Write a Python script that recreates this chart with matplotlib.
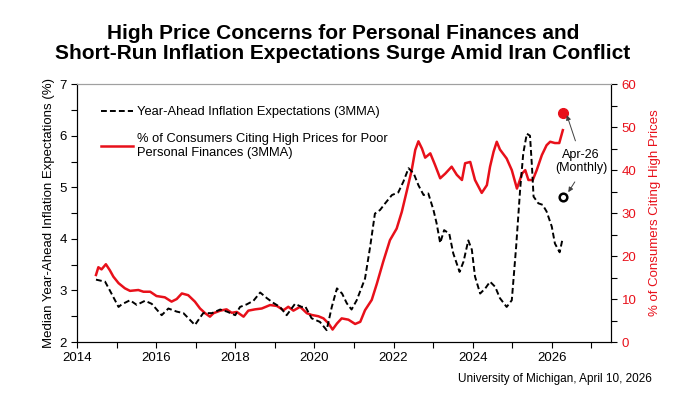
import matplotlib
matplotlib.use("Agg")
import matplotlib.pyplot as plt
from matplotlib.ticker import MultipleLocator

plt.rcParams['font.family'] = ['Liberation Sans', 'DejaVu Sans']

# Year-ahead inflation expectations, 3MMA (%), left axis
infl_x = [2014.48, 2014.71, 2014.83, 2015.05, 2015.13, 2015.34, 2015.51, 2015.72, 2015.89,
          2016.14, 2016.31, 2016.52, 2016.69, 2016.98, 2017.19, 2017.41, 2017.62, 2017.79,
          2018.00, 2018.12, 2018.29, 2018.46, 2018.63, 2018.80, 2018.96, 2019.13, 2019.30,
          2019.51, 2019.68, 2019.77, 2019.93, 2020.14, 2020.31, 2020.44, 2020.57, 2020.70,
          2020.82, 2020.94, 2021.07, 2021.28, 2021.41, 2021.53, 2021.66, 2021.79, 2021.96,
          2022.12, 2022.25, 2022.38, 2022.51, 2022.63, 2022.76, 2022.88, 2023.01, 2023.09,
          2023.18, 2023.28, 2023.41, 2023.51, 2023.67, 2023.77, 2023.89, 2023.98, 2024.06,
          2024.19, 2024.32, 2024.44, 2024.57, 2024.69, 2024.86, 2024.99, 2025.10, 2025.20,
          2025.28, 2025.37, 2025.45, 2025.50, 2025.54, 2025.66, 2025.77, 2025.87, 2026.00,
          2026.08, 2026.20, 2026.27]
infl_y = [3.21, 3.17, 3.00, 2.68, 2.73, 2.81, 2.72, 2.80, 2.74,
          2.52, 2.65, 2.59, 2.56, 2.33, 2.56, 2.56, 2.63, 2.59,
          2.52, 2.68, 2.73, 2.80, 2.96, 2.85, 2.76, 2.68, 2.52,
          2.74, 2.68, 2.69, 2.46, 2.39, 2.23, 2.68, 3.04, 2.94,
          2.75, 2.63, 2.81, 3.23, 3.85, 4.49, 4.56, 4.69, 4.85,
          4.90, 5.11, 5.37, 5.27, 5.04, 4.85, 4.88, 4.56, 4.30,
          3.92, 4.17, 4.10, 3.72, 3.36, 3.56, 3.97, 3.79, 3.27,
          2.94, 3.04, 3.17, 3.07, 2.85, 2.68, 2.81, 3.85, 4.95,
          5.66, 6.04, 6.00, 5.40, 4.82, 4.69, 4.66, 4.53, 4.24,
          3.91, 3.74, 3.99]

# % of consumers citing high prices for poor personal finances, 3MMA, right axis
price_x = [2014.48, 2014.54, 2014.62, 2014.73, 2014.83, 2014.92, 2015.05, 2015.21, 2015.34,
           2015.55, 2015.68, 2015.85, 2016.01, 2016.22, 2016.39, 2016.52, 2016.65, 2016.81,
           2016.98, 2017.11, 2017.24, 2017.36, 2017.45, 2017.62, 2017.78, 2017.91, 2018.04,
           2018.21, 2018.33, 2018.50, 2018.67, 2018.88, 2019.05, 2019.22, 2019.34, 2019.47,
           2019.64, 2019.81, 2019.93, 2020.10, 2020.23, 2020.36, 2020.46, 2020.57, 2020.69,
           2020.86, 2021.03, 2021.16, 2021.28, 2021.45, 2021.58, 2021.74, 2021.91, 2022.08,
           2022.21, 2022.34, 2022.46, 2022.55, 2022.63, 2022.72, 2022.80, 2022.93, 2023.05,
           2023.18, 2023.31, 2023.47, 2023.60, 2023.73, 2023.81, 2023.94, 2024.06, 2024.23,
           2024.36, 2024.44, 2024.53, 2024.61, 2024.69, 2024.86, 2024.99, 2025.12, 2025.25,
           2025.33, 2025.41, 2025.52, 2025.62, 2025.75, 2025.87, 2025.96, 2026.08, 2026.19,
           2026.28]
price_y = [15.6, 17.4, 16.9, 18.1, 16.7, 15.2, 13.7, 12.5, 11.9,
           12.1, 11.7, 11.7, 10.7, 10.4, 9.4, 10.0, 11.3, 10.9,
           9.4, 7.8, 6.7, 5.9, 6.7, 7.3, 7.6, 6.8, 7.0,
           5.9, 7.3, 7.6, 7.8, 8.6, 8.4, 7.4, 8.2, 7.3,
           8.2, 6.7, 6.3, 6.0, 5.5, 4.3, 2.9, 4.3, 5.5,
           5.2, 4.2, 4.7, 7.4, 9.8, 13.6, 18.7, 23.7, 26.4,
           30.3, 35.3, 40.0, 44.7, 46.7, 45.0, 42.9, 43.9, 41.2,
           38.1, 39.2, 40.8, 38.9, 37.7, 41.6, 41.9, 37.7, 34.7,
           36.5, 40.8, 44.3, 46.6, 44.8, 42.7, 40.0, 35.7, 39.2,
           40.0, 37.7, 37.7, 40.0, 43.5, 45.8, 46.6, 46.3, 46.3,
           49.3]

# Apr-26 monthly readings
apr_x = 2026.28
apr_infl = 4.82
apr_price = 53.2

red = '#e8101a'

fig = plt.figure(figsize=(6.79, 3.97), dpi=100)
ax = fig.add_axes([0.1134, 0.1385, 0.7866, 0.6495])
ax2 = ax.twinx()

l1, = ax.plot(infl_x, infl_y, color='black', ls=(0, (3, 1.6)), lw=1.4,
              label='Year-Ahead Inflation Expectations (3MMA)', zorder=3)
l2, = ax2.plot(price_x, price_y, color=red, lw=1.8,
               label='% of Consumers Citing High Prices for Poor\nPersonal Finances (3MMA)')
ax.plot([apr_x], [apr_infl], 'o', mfc='white', mec='black', mew=1.8, ms=5.5, zorder=4)
ax2.plot([apr_x], [apr_price], 'o', color=red, ms=7)

ax.set_zorder(ax2.get_zorder() + 1)
ax.patch.set_visible(False)

ax.set_xlim(2014, 2027.5)
ax.set_ylim(2, 7)
ax2.set_ylim(0, 60)
ax.xaxis.set_major_locator(MultipleLocator(2))
ax.xaxis.set_minor_locator(MultipleLocator(1))
ax.yaxis.set_major_locator(MultipleLocator(1))
ax.yaxis.set_minor_locator(MultipleLocator(0.5))
ax2.yaxis.set_major_locator(MultipleLocator(10))
ax2.yaxis.set_minor_locator(MultipleLocator(5))

for a in (ax, ax2):
    a.tick_params(which='both', direction='out', length=4, width=0.8, labelsize=9.5)
    a.spines['top'].set_color('#a0a0a0')
ax2.tick_params(axis='y', which='both', colors='black', labelcolor=red)

ax.set_ylabel('Median Year-Ahead Inflation Expectations (%)', fontsize=9.5, labelpad=3)
ax2.set_ylabel('% of Consumers Citing High Prices', fontsize=9.5, color=red, labelpad=9)

leg = ax.legend(handles=[l1, l2], loc='upper left', bbox_to_anchor=(0.045, 0.915),
                frameon=False, fontsize=9.3, handlelength=2.5, handletextpad=0.3,
                labelspacing=1.15, borderaxespad=0, borderpad=0)

ax.annotate('', xy=(apr_x + 0.08, 6.45), xytext=(2026.62, 5.85),
            arrowprops=dict(arrowstyle='-|>', color='#404040', lw=0.7, mutation_scale=7))
ax.annotate('', xy=(apr_x + 0.1, 4.86), xytext=(2026.62, 5.15),
            arrowprops=dict(arrowstyle='-|>', color='#404040', lw=0.7, mutation_scale=7))
ax.text(2026.74, 5.5, 'Apr-26\n(Monthly)', ha='center', va='center', fontsize=9,
        linespacing=1.15)

fig.text(0.505, 0.94, 'High Price Concerns for Personal Finances and\n'
         'Short-Run Inflation Expectations Surge Amid Iran Conflict',
         ha='center', va='top', fontsize=15, fontweight='bold', linespacing=1.08)
fig.text(0.96, 0.03, 'University of Michigan, April 10, 2026', ha='right', va='bottom',
         fontsize=8.5)

fig.savefig('out.png', dpi=100)
